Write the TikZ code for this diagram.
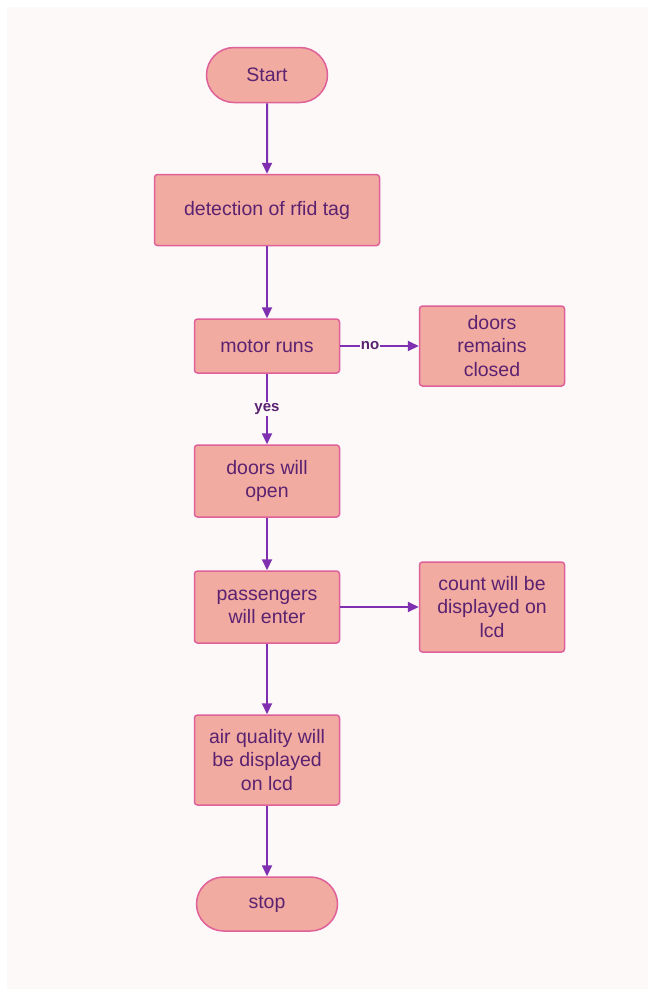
\documentclass[tikz,border=0pt]{standalone}
\usepackage{fontspec}
\setmainfont{Liberation Sans}
\usetikzlibrary{arrows.meta, shapes.misc}
\definecolor{flowFill}{HTML}{F2ABA0}
\definecolor{flowEdge}{HTML}{E0609A}
\definecolor{flowText}{HTML}{5A2270}
\definecolor{flowLine}{HTML}{7E30B0}
\definecolor{flowPaper}{HTML}{FCF9F8}

\begin{document}
\begin{tikzpicture}[x=1pt, y=-1pt,
      block/.style={rectangle, draw=flowEdge, fill=flowFill, line width=1.5pt,
                     minimum width=145pt, minimum height=54pt, inner sep=2pt,
                     align=center, text=flowText, font=\fontsize{19.5}{23.5}\selectfont,
                     rounded corners=3pt},
      term/.style={block, rounded rectangle, rounded corners=0pt},
      arrow/.style={-{Triangle[length=11pt, width=10pt]}, line width=2pt, flowLine},
      tag/.style={fill=flowPaper, text=flowText, font=\fontsize{15}{15}\selectfont\bfseries,
                   inner sep=1pt}
    ]
    \useasboundingbox (0,0) rectangle (648,989);
    \fill[flowPaper] (7,7) rectangle (648,989);

    \node[term, minimum width=125pt, minimum height=55pt] (a) at (267,75) {Start};
    \node[block, minimum width=225pt, minimum height=71pt] (b) at (267,210) {detection of rfid tag};
    \node[block] (c) at (267,346) {motor runs};
    \node[block, minimum height=80pt] (d) at (492,346) {doors\\remains\\closed};
    \node[block, minimum height=72pt] (e) at (267,481) {doors will\\open};
    \node[block, minimum height=72pt] (f) at (267,607) {passengers\\will enter};
    \node[block, minimum height=90pt] (g) at (492,607) {count will be\\displayed on\\lcd};
    \node[block, minimum height=90pt] (h) at (267,760) {air quality will\\be displayed\\on lcd};
    \node[term, minimum height=54pt] (i) at (267,904) {stop};

    \draw[arrow] (a) -- (b);
    \draw[arrow] (b) -- (c);
    \draw[arrow] (c) -- node[tag, pos=0.38] {no} (d);
    \draw[arrow] (c) -- node[tag] {yes} (e);
    \draw[arrow] (e) -- (f);
    \draw[arrow] (f) -- (g);
    \draw[arrow] (f) -- (h);
    \draw[arrow] (h) -- (i);
  \end{tikzpicture}
\end{document}
